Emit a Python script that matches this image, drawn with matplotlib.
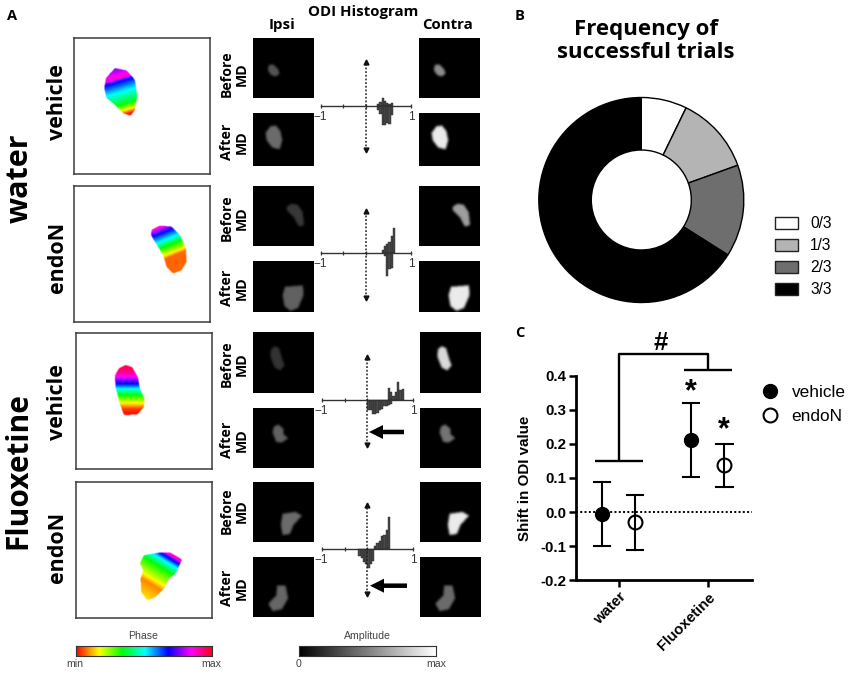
import numpy as np
import matplotlib
matplotlib.use("Agg")
import matplotlib.pyplot as plt
from matplotlib.path import Path
from matplotlib.lines import Line2D
from matplotlib.patches import Patch, FancyArrow
from matplotlib.transforms import ScaledTranslation

W, H = 850, 674
HEAD = ['Open Sans', 'DejaVu Sans']
ARIAL = ['Liberation Sans', 'DejaVu Sans']

# ---- panel B
trial_labels = ['0/3', '1/3', '2/3', '3/3']
trial_values = [7.2, 12.3, 14.5, 66.0]
trial_colors = ['#ffffff', '#b4b4b4', '#6e6e6e', '#000000']

# ---- panel C
groups = ['water', 'Fluoxetine']
vehicle_mean = [-0.005, 0.21]
vehicle_low = [-0.10, 0.103]
vehicle_high = [0.087, 0.32]
endon_mean = [-0.03, 0.137]
endon_low = [-0.11, 0.075]
endon_high = [0.05, 0.20]

# ---- ODI histograms: left bin edge, bin width 0.05, bar heights
hist_start_up = [0.25, 0.35, 0.45, 0.15]
hist_up = [[2, 4, 8, 5, 3, 2, 3],
           [3, 7, 9, 11, 17, 25],
           [12, 8, 4, 8, 18, 10, 11],
           [3, 6, 8, 13, 14, 19, 32]]
hist_start_down = [0.25, 0.35, 0.0, -0.2]
hist_down = [[4, 8, 19, 19, 17, 18, 9],
             [0, 3, 23, 16, 15, 0],
             [10, 10, 14, 14, 13, 10, 9, 6, 6, 5, 4],
             [7, 9, 13, 15, 19, 15, 12]]

# ---- phase maps: outlines, and phase anchors along y + tilt * x
phase_outlines = [
    [(345,205),(380,212),(405,240),(412,290),(405,330),(392,348),(370,340),(345,315),(320,295),(313,265),(318,235)],
    [(455,690),(480,677),(515,680),(540,705),(558,745),(560,785),(545,810),(520,820),(500,800),(490,765),(465,725),(453,705)],
    [(375,118),(395,125),(412,155),(418,190),(432,220),(430,245),(410,267),(370,268),(358,235),(345,185),(343,150),(355,128)],
    [(430,690),(480,682),(510,683),(545,703),(525,745),(505,760),(490,790),(465,815),(440,825),(422,800),(420,760),(428,735),(418,715)],
]
phase_tilt = [0.3, 0.4, 0.0, -0.6]
phase_u = [[315, 341, 352, 387, 422, 442, 456],
           [870, 894, 919, 940, 960, 975, 1030],
           [118, 140, 155, 175, 190, 210, 232, 250, 270],
           [380, 394, 410, 440, 480, 505, 530, 560]]
phase_v = [[0.78, 0.88, 0.68, 0.50, 0.36, 0.18, 0.02],
           [0.90, 0.67, 0.50, 0.33, 0.20, 0.07, 0.07],
           [0.98, 0.92, 0.83, 0.67, 0.50, 0.33, 0.17, 0.04, 0.0],
           [0.90, 0.70, 0.52, 0.33, 0.20, 0.09, 0.12, 0.16]]
phase_boxes = [(223, 631, 113, 522, 0, 0),
               (223, 631, 557, 965, 0, 0),
               (227, 635, 23, 431, 0, 325),
               (227, 635, 470, 878, 0, 325)]

# ---- amplitude maps: outlines, grey level ipsi / contra
amp_outlines = [
    [(160,197),(172,195),(185,207),(190,220),(180,228),(168,225),(158,212)],
    [(165,382),(180,380),(192,395),(197,420),(190,445),(170,440),(155,420),(152,400)],
    [(228,612),(245,615),(258,635),(262,670),(248,675),(235,650),(215,630),(215,620)],
    [(210,862),(240,860),(258,858),(260,885),(245,920),(225,928),(208,915),(203,885)],
    [(180,67),(192,72),(200,100),(207,120),(195,133),(180,125),(168,95),(170,75)],
    [(190,303),(205,315),(205,330),(218,340),(200,352),(185,350),(175,325),(178,310)],
    [(205,570),(240,565),(258,575),(235,600),(225,625),(205,628),(200,600)],
    [(187,785),(210,785),(217,820),(200,850),(175,855),(163,835),(185,812)],
]
amp_ipsi = [0.33, 0.42, 0.22, 0.38, 0.20, 0.38, 0.42, 0.40]
amp_contra = [0.55, 0.92, 0.62, 0.92, 0.85, 0.45, 0.92, 0.42]
amp_boxes = [(113, 294, 115, 295, 215, 0), (113, 294, 340, 498, 215, 0),
             (113, 294, 557, 737, 215, 0), (113, 294, 783, 935, 215, 0),
             (115, 297, 22, 204, 215, 325), (115, 297, 250, 430, 215, 325),
             (115, 297, 470, 652, 215, 325), (115, 297, 697, 877, 215, 325)]
contra_shift = [166, 166, 166, 166, 166.5, 166.5, 166.5, 166.5]

row_labels = ['Before\nMD', 'After\nMD']
row_label_y = [74, 142, 218, 288, 364, 440, 511, 588]


def px_axes(x0, y0, x1, y1, **kw):
    return fig.add_axes([x0 / W, 1 - y1 / H, (x1 - x0) / W, (y1 - y0) / H], **kw)


def blob_mask(outline, box, step=1.5, grow=1.0, soft=1):
    x0, x1, y0, y1 = box[:4]
    xs = np.arange(x0, x1, step)
    ys = np.arange(y0, y1, step)
    gx, gy = np.meshgrid(xs, ys)
    pts = np.array(outline, float)
    c = pts.mean(axis=0)
    pts = c + (pts - c) * grow
    inside = Path(pts).contains_points(np.c_[gx.ravel(), gy.ravel()]).reshape(gx.shape)
    m = inside.astype(float)
    k = np.array([1, 2, 3, 4, 3, 2, 1.0])
    k /= k.sum()
    for _ in range(soft):
        m = np.apply_along_axis(lambda r: np.convolve(r, k, mode='same'), 1, m)
        m = np.apply_along_axis(lambda r: np.convolve(r, k, mode='same'), 0, m)
    return gx, gy, m


fig = plt.figure(figsize=(W / 100, H / 100), dpi=100, facecolor='white')

# ---- phase maps
for i, box in enumerate(phase_boxes):
    zx0, zx1, zy0, zy1, ox, oy = box
    ax = px_axes(ox + zx0 / 3, oy + zy0 / 3, ox + zx1 / 3, oy + zy1 / 3)
    gx, gy, m = blob_mask(phase_outlines[i], box)
    ph = np.interp(gy + phase_tilt[i] * gx, phase_u[i], phase_v[i])
    rgba = plt.get_cmap('hsv')(ph)
    a = np.clip((m - 0.25) / 0.5, 0, 1)[..., None]
    rgb = rgba[..., :3] * a + (1 - a)
    ax.imshow(rgb, extent=(zx0, zx1, zy1, zy0), aspect='auto', interpolation='bilinear')
    ax.set_xticks([])
    ax.set_yticks([])
    for s in ax.spines.values():
        s.set_color('#3a3a3a')
        s.set_linewidth(1.1)

# ---- amplitude maps
for i, box in enumerate(amp_boxes):
    zx0, zx1, zy0, zy1, ox, oy = box
    gx, gy, m = blob_mask(amp_outlines[i], box, grow=1.1, soft=2)
    for level, dx in ((amp_ipsi[i], 0), (amp_contra[i], contra_shift[i])):
        ax = px_axes(ox + zx0 / 3 + dx, oy + zy0 / 3, ox + zx1 / 3 + dx, oy + zy1 / 3)
        ax.imshow(m * level, cmap='gray', vmin=0, vmax=1, extent=(zx0, zx1, zy1, zy0),
                  aspect='auto', interpolation='bilinear')
        ax.set_xticks([])
        ax.set_yticks([])
        for s in ax.spines.values():
            s.set_visible(False)

# ---- histograms
hist_geom = [(320.7, 411, 105.7, 62, 150), (320.7, 411, 253.3, 211, 298),
             (321.7, 413, 400.2, 357, 445), (321.7, 413, 549.3, 505, 594)]
for i, (xl, xr, yc, ya, yb) in enumerate(hist_geom):
    ax = px_axes(xl, yc - 46, xr, yc + 46)
    ax.patch.set_alpha(0)
    ax.axis('off')
    ax.set_xlim(-1, 1)
    ax.set_ylim(-46, 46)
    up = np.array(hist_up[i], float)
    dn = np.array(hist_down[i], float)
    ax.bar(hist_start_up[i] + 0.05 * np.arange(len(up)), up, width=0.05, align='edge',
           color='#4a4a4a', edgecolor='#222222', linewidth=0.3)
    ax.bar(hist_start_down[i] + 0.05 * np.arange(len(dn)), -dn, width=0.05, align='edge',
           color='#4a4a4a', edgecolor='#222222', linewidth=0.3)
    ax.plot([-1, 1], [0, 0], color='#333333', lw=1.0, clip_on=False)
    ax.plot([-1, -0.5, 0, 1], [0, 0, 0, 0], ls='none', marker='|', ms=3.5, mew=0.9,
            color='#333333', clip_on=False)
    ya_v, yb_v = yc - ya, yc - yb
    ax.plot([0, 0], [yb_v, ya_v], color='#222222', lw=1.1, ls=(0, (1.2, 1.2)), clip_on=False)
    ax.plot([0], [ya_v], marker='^', ms=3.5, color='#111111', clip_on=False)
    ax.plot([0], [yb_v], marker='v', ms=3.5, color='#111111', clip_on=False)
    ax.text(-1, -5, '\u22121', ha='center', va='top', fontsize=8.5, family=ARIAL, color='#333333')
    ax.text(1, -5, '1', ha='center', va='top', fontsize=8.5, family=ARIAL, color='#333333')

# ---- colour bars
grad = np.linspace(0, 1, 256)[None, :]
for (x0, x1, cmap) in ((75.5, 211.5, 'hsv'), (299, 436, 'gray')):
    ax = px_axes(x0, 646, x1, 656)
    ax.imshow(grad, cmap=cmap, aspect='auto')
    ax.set_xticks([])
    ax.set_yticks([])
    for s in ax.spines.values():
        s.set_color('#333333')
        s.set_linewidth(0.8)

# ---- panel B donut
ax = px_axes(641.3 - 105, 200 - 105, 641.3 + 105, 200 + 105)
ax.pie(trial_values, colors=trial_colors, startangle=90, counterclock=False, radius=102.5 / 105,
       wedgeprops=dict(width=52.5 / 105, edgecolor='black', linewidth=1.0))
ax.set_xlim(-1, 1)
ax.set_ylim(-1, 1)
handles = [Patch(facecolor=c, edgecolor='#222222', linewidth=1.0) for c in trial_colors]
fig.legend(handles, trial_labels, loc='upper left', bbox_to_anchor=(775 / W, 1 - 216 / H),
           frameon=False, prop={'family': ARIAL, 'size': 11.2}, borderpad=0, borderaxespad=0,
           handlelength=1.48, handleheight=0.8, handletextpad=0.77, labelspacing=0.45)

# ---- panel C
ax = px_axes(576, 375.7, 752, 580.3)
ax.patch.set_alpha(0)
ax.set_xlim(0.522, 2.493)
ax.set_ylim(-0.2, 0.4)
xpos = np.arange(1, len(groups) + 1)
ax.axhline(0, color='black', lw=1.4, ls=(0, (1, 1.2)), zorder=1)
off = 0.185
for j in range(len(groups)):
    ax.plot([xpos[j] - off], [vehicle_mean[j]], 'o', ms=10, color='black', zorder=3)
    ax.plot([xpos[j] + off], [endon_mean[j]], 'o', ms=10, mfc='white', mec='black', mew=1.5, zorder=3)
    for x, lo, hi in ((xpos[j] - off, vehicle_low[j], vehicle_high[j]),
                      (xpos[j] + off, endon_low[j], endon_high[j])):
        ax.plot([x, x], [lo, hi], color='black', lw=1.5, zorder=4)
        ax.plot([x - 0.09, x + 0.09], [lo, lo], color='black', lw=1.5, zorder=4)
        ax.plot([x - 0.09, x + 0.09], [hi, hi], color='black', lw=1.5, zorder=4)
for name in ('top', 'right'):
    ax.spines[name].set_visible(False)
for name in ('left', 'bottom'):
    ax.spines[name].set_linewidth(2.0)
ax.set_yticks(np.arange(-0.2, 0.41, 0.1))
ax.set_yticklabels([f'{v:.1f}' for v in np.arange(-0.2, 0.41, 0.1)],
                   fontsize=10.8, fontweight='bold', family=ARIAL)
ax.set_xticks(xpos)
ax.set_xticklabels(groups, rotation=45, ha='right', rotation_mode='anchor',
                   fontsize=10.8, fontweight='bold', family=ARIAL)
shift = ScaledTranslation(-4 / 100, 0, fig.dpi_scale_trans)
for lab in ax.get_xticklabels():
    lab.set_transform(lab.get_transform() + shift)
ax.tick_params(axis='both', width=1.8, length=5, pad=2)
ax.set_ylabel('Shift in ODI value', fontsize=10.9, fontweight='bold', family=ARIAL, labelpad=6)
# significance brackets
bk = dict(color='black', lw=1.7, clip_on=False, solid_capstyle='butt')
ax.plot([xpos[0], xpos[0], xpos[1], xpos[1]], [0.15, 0.463, 0.463, 0.416], **bk)
ax.plot([xpos[0] - 0.27, xpos[0] + 0.27], [0.15, 0.15], **bk)
ax.plot([xpos[1] - 0.27, xpos[1] + 0.27], [0.416, 0.416], **bk)
leg_handles = [Line2D([], [], ls='none', marker='o', ms=10, color='black'),
               Line2D([], [], ls='none', marker='o', ms=10, mfc='white', mec='black', mew=1.5)]
fig.legend(leg_handles, ['vehicle', 'endoN'], loc='upper left', bbox_to_anchor=(761 / W, 1 - 384.5 / H),
           frameon=False, prop={'family': ARIAL, 'size': 12.4}, borderpad=0, borderaxespad=0,
           handlelength=1.0, handletextpad=0.77, labelspacing=0.57)

# ---- overlay: texts and arrows
ov = fig.add_axes([0, 0, 1, 1], zorder=20)
ov.set_xlim(0, W)
ov.set_ylim(H, 0)
ov.axis('off')
ov.patch.set_alpha(0)


def T(x, y, s, size, rot=0, head=True, bold=True, color='black', ls=0.95, **kw):
    ov.text(x, y, s, fontsize=size, rotation=rot, ha='center', va='center',
            family=HEAD if head else ARIAL, fontweight='bold' if bold else 'normal',
            color=color, linespacing=ls, **kw)


T(12, 16, 'A', 10.5)
T(520, 15.5, 'B', 10.5)
T(520, 333, 'C', 10.5)
T(645.7, 41, 'Frequency of\nsuccessful trials', 16, ls=1.08)
T(363, 12, 'ODI Histogram', 10.8)
T(282, 25, 'Ipsi', 10.8)
T(448, 25, 'Contra', 10.8)
T(20, 178, 'water', 22, rot=90)
T(18, 471, 'Fluoxetine', 21.5, rot=90)
T(58, 102, 'vehicle', 15.5, rot=90)
T(58, 257, 'endoN', 15.5, rot=90)
T(58, 402, 'vehicle', 15.5, rot=90)
T(58, 547, 'endoN', 15.5, rot=90)
for i, y in enumerate(row_label_y):
    T(234.5, y, row_labels[i % 2], 10.2, rot=90, ls=1.08)
T(143, 636, 'Phase', 7.6, head=False, bold=False, color='#444444')
T(75, 664, 'min', 7.6, head=False, bold=False, color='#444444')
T(211, 664, 'max', 7.6, head=False, bold=False, color='#444444')
T(367, 636, 'Amplitude', 7.6, head=False, bold=False, color='#444444')
T(299, 664, '0', 7.6, head=False, bold=False, color='#444444')
T(436, 664, 'max', 7.6, head=False, bold=False, color='#444444')
T(661, 343.5, '#', 18.5, head=False)
T(691, 392.5, '*', 22, head=False)
T(724, 430, '*', 22, head=False)
for x0, x1, y in ((404, 369, 432), (407, 370, 585.7)):
    ov.add_patch(FancyArrow(x0, y, x1 - x0, 0, width=4.5, head_width=14, head_length=14,
                            length_includes_head=True, color='black', lw=0))

fig.savefig('out.png', dpi=100)
